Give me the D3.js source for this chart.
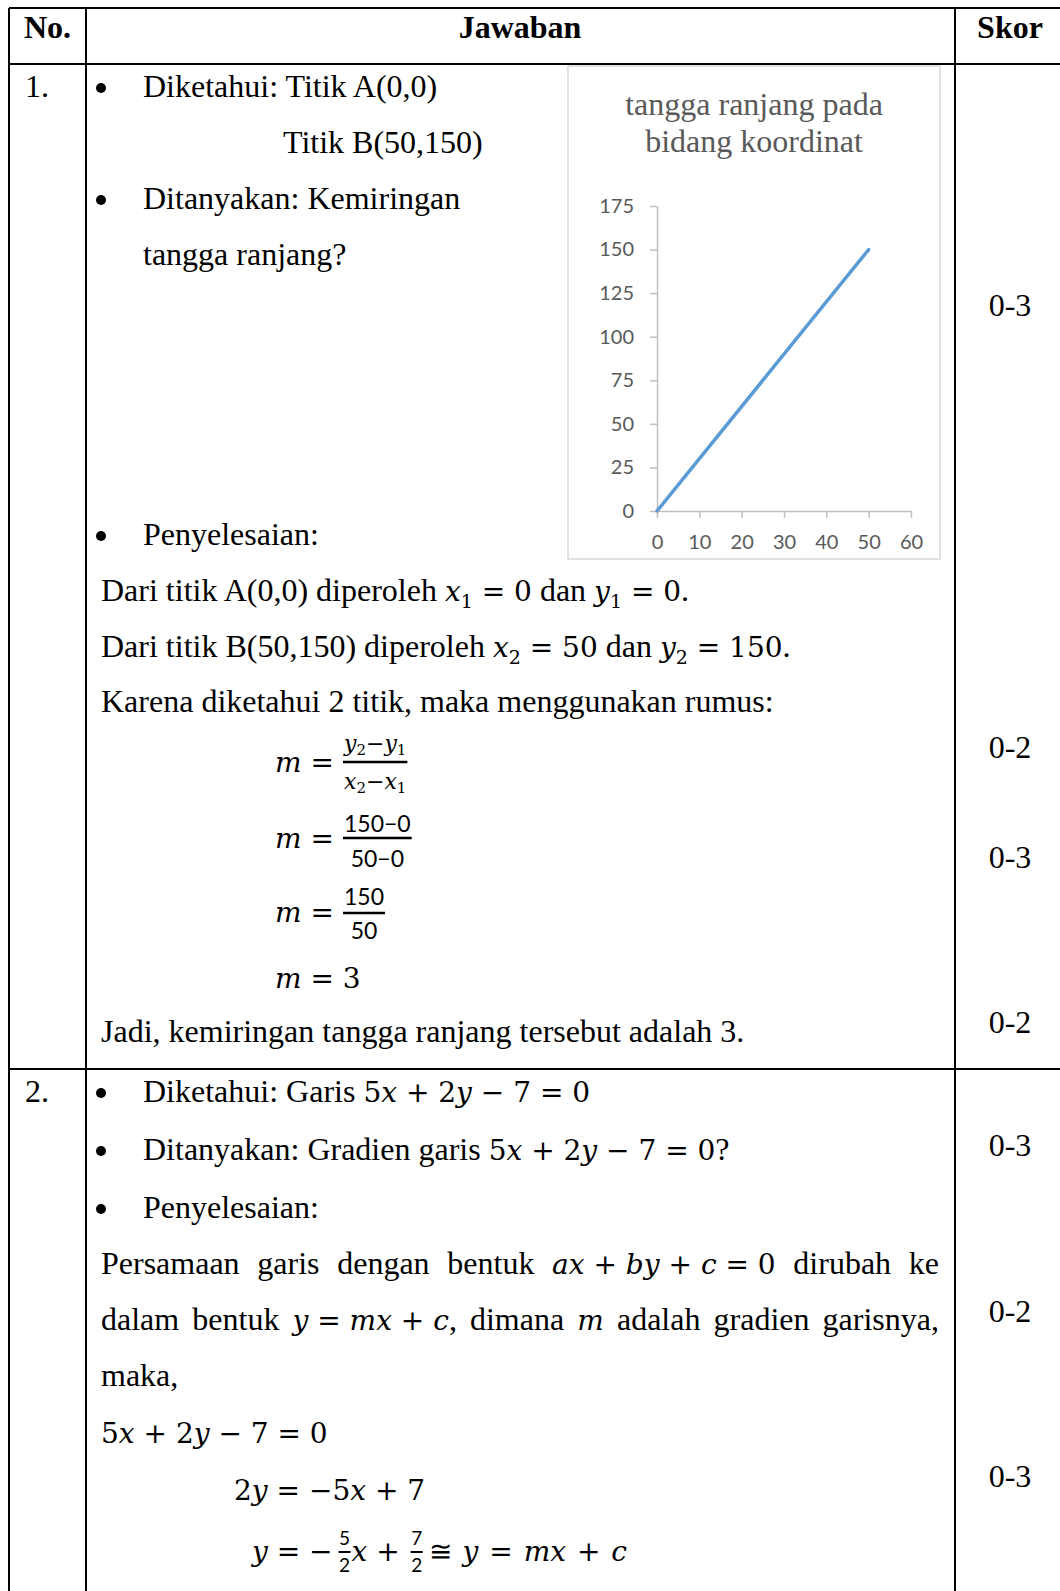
<!DOCTYPE html>
<html>
<head>
<meta charset="utf-8">
<script src="https://cdn.jsdelivr.net/npm/d3@7"></script>
<style>
body{margin:0;background:#fff}
</style>
</head>
<body>
<div id="page"></div>
<script>
// chart data
var xValues=[0,50];
var yValues=[0,150];
var xTicks=[0,10,20,30,40,50,60];
var yTicks=[0,25,50,75,100,125,150,175];
var chartTitle=["tangga ranjang pada","bidang koordinat"];
// skor column
var skor1=["0-3","0-2","0-3","0-2"];
var skor1Y=[316,758,868,1033];
var skor2=["0-3","0-2","0-3"];
var skor2Y=[1156,1322,1487];

var serif="'Liberation Serif','Times New Roman',serif";
var math="'DejaVu Serif',serif";
var sans="Lato,'Open Sans',sans-serif";

var svg=d3.select("#page").append("svg")
	.attr("width",1060)
	.attr("height",1591);

// table borders
[8,64,1069].forEach(function(yy){
	svg.append("line").attr("x1",9).attr("x2",1060).attr("y1",yy).attr("y2",yy)
		.attr("stroke","#000").attr("stroke-width",2);
});
[9,86,955].forEach(function(xx){
	svg.append("line").attr("x1",xx).attr("x2",xx).attr("y1",8).attr("y2",1591)
		.attr("stroke","#000").attr("stroke-width",2);
});

// rich text: strings are Times, {m}/{i}/{sub}/{s} are math runs
function rich(x,y,runs){
	var t=svg.append("text")
		.attr("x",x).attr("y",y)
		.attr("xml:space","preserve")
		.attr("font-family",serif)
		.attr("font-size",32)
		.attr("fill","#000");
	var shift=0;
	runs.forEach(function(r){
		var s=typeof r==="string"?{t:r}:r;
		var ts=t.append("tspan");
		var target=0;
		if(s.t!=null) ts.text(s.t);
		else if(s.m!=null) ts.text(s.m).attr("font-family",math).attr("font-size",s.fs||28);
		else if(s.i!=null) ts.text(s.i).attr("font-family",math).attr("font-size",s.fs||28).attr("font-style","italic");
		else if(s.s!=null) ts.text(s.s).attr("font-family",sans).attr("font-size",s.fs||23);
		else if(s.sub!=null){ts.text(s.sub).attr("font-family",math).attr("font-size",s.fs||19);target=s.dy||7;}
		if(target!==shift){ts.attr("dy",target-shift);shift=target;}
	});
	return t;
}

function bullet(yy){
	svg.append("circle").attr("cx",101).attr("cy",yy).attr("r",5).attr("fill","#000");
}

function frac(x,barY,num,den,o){
	var n=rich(x,barY-o.up,num), d=rich(x,barY+o.down,den);
	var wn=n.node().getComputedTextLength(), wd=d.node().getComputedTextLength();
	var w=Math.max(wn,wd)+o.pad;
	n.attr("x",x+(w-wn)/2);
	d.attr("x",x+(w-wd)/2);
	svg.append("line").attr("x1",x).attr("x2",x+w).attr("y1",barY).attr("y2",barY)
		.attr("stroke","#000").attr("stroke-width",o.sw);
	return w;
}

function justify(x0,x1,y,units){
	var els=units.map(function(u){return rich(0,y,u);});
	var ws=els.map(function(e){return e.node().getComputedTextLength();});
	var gap=(x1-x0-d3.sum(ws))/(units.length-1);
	var cx=x0;
	els.forEach(function(e,i){e.attr("x",cx);cx+=ws[i]+gap;});
}

// header
svg.append("text").attr("x",24).attr("y",38).attr("font-family",serif).attr("font-size",32).attr("font-weight","bold").text("No.");
svg.append("text").attr("x",520).attr("y",38).attr("text-anchor","middle").attr("font-family",serif).attr("font-size",32).attr("font-weight","bold").text("Jawaban");
svg.append("text").attr("x",1010).attr("y",38).attr("text-anchor","middle").attr("font-family",serif).attr("font-size",32).attr("font-weight","bold").text("Skor");

// row 1
rich(25,97,["1."]);
bullet(88);bullet(200);bullet(536);
rich(143,97,["Diketahui: Titik A(0,0)"]);
rich(283,153,["Titik B(50,150)"]);
rich(143,209,["Ditanyakan: Kemiringan"]);
rich(143,265,["tangga ranjang?"]);
rich(143,545,["Penyelesaian:"]);
rich(101,601,["Dari titik A(0,0) diperoleh ",{i:"x"},{sub:"1"},{m:" = 0"}," dan ",{i:"y"},{sub:"1"},{m:" = 0"},"."]);
rich(101,657,["Dari titik B(50,150) diperoleh ",{i:"x"},{sub:"2"},{m:" = 50"}," dan ",{i:"y"},{sub:"2"},{m:" = 150"},"."]);
rich(101,712,["Karena diketahui 2 titik, maka menggunakan rumus:"]);

var fo={up:6,down:29,pad:2,sw:2.5};
rich(275,772,[{i:"m"},{m:" ="}]);
frac(343,762,[{i:"y",fs:22},{sub:"2",fs:15,dy:4},{m:"−",fs:22},{i:"y",fs:22},{sub:"1",fs:15,dy:4}],
	[{i:"x",fs:22},{sub:"2",fs:15,dy:4},{m:"−",fs:22},{i:"x",fs:22},{sub:"1",fs:15,dy:4}],{up:11,down:27,pad:2,sw:2.5});
rich(275,848,[{i:"m"},{m:" ="}]);
frac(343,838,[{s:"150−0"}],[{s:"50−0"}],fo);
rich(275,922,[{i:"m"},{m:" ="}]);
frac(343,913,[{s:"150"}],[{s:"50"}],{up:8,down:26,pad:2,sw:2.5});
rich(275,988,[{i:"m"},{m:" = 3"}]);
rich(101,1042,["Jadi, kemiringan tangga ranjang tersebut adalah 3."]);

skor1.forEach(function(s,i){
	rich(1010,skor1Y[i],[s]).attr("text-anchor","middle");
});

// row 2
rich(25,1102,["2."]);
bullet(1093);bullet(1151);bullet(1209);
rich(143,1102,["Diketahui: Garis ",{m:"5"},{i:"x"},{m:" + 2"},{i:"y"},{m:" − 7 = 0"}]);
rich(143,1160,["Ditanyakan: Gradien garis ",{m:"5"},{i:"x"},{m:" + 2"},{i:"y"},{m:" − 7 = 0"},"?"]);
rich(143,1218,["Penyelesaian:"]);
justify(101,939,1274,[["Persamaan"],["garis"],["dengan"],["bentuk"],
	[{i:"ax"},{m:" + "},{i:"by"},{m:" + "},{i:"c"},{m:" = 0"}],["dirubah"],["ke"]]);
justify(101,939,1330,[["dalam"],["bentuk"],[{i:"y"},{m:" = "},{i:"mx"},{m:" + "},{i:"c"},","],
	["dimana"],[{i:"m"}],["adalah"],["gradien"],["garisnya,"]]);
rich(101,1386,["maka,"]);
rich(101,1443,[{m:"5"},{i:"x"},{m:" + 2"},{i:"y"},{m:" − 7 = 0"}]);
rich(234,1500,[{m:"2"},{i:"y"},{m:" = −5"},{i:"x"},{m:" + 7"}]);

// y = -5/2 x + 7/2 ≅ y = mx + c
(function(){
	var cx=252, by=1561, so={up:7,down:20,pad:1,sw:2};
	var t=rich(cx,by,[{i:"y"},{m:" = −"}]);
	cx+=t.node().getComputedTextLength()+6;
	cx+=frac(cx,1552,[{s:"5",fs:19}],[{s:"2",fs:19}],so)+1;
	t=rich(cx,by,[{i:"x"},{m:" + "}]);
	cx+=t.node().getComputedTextLength()+2;
	cx+=frac(cx,1552,[{s:"7",fs:19}],[{s:"2",fs:19}],so)+6;
	rich(cx,by,[{m:"≅ "},{i:"y"},{m:" = "},{i:"mx"},{m:" + "},{i:"c"}]).attr("word-spacing",2);
})();

skor2.forEach(function(s,i){
	rich(1010,skor2Y[i],[s]).attr("text-anchor","middle");
});

// embedded chart
var box={x:568,y:66,w:372,h:493};
svg.append("rect")
	.attr("x",box.x).attr("y",box.y)
	.attr("width",box.w).attr("height",box.h)
	.attr("fill","#fff").attr("stroke","#d9d9d9").attr("stroke-width",1.5);

chartTitle.forEach(function(s,i){
	svg.append("text")
		.attr("x",box.x+box.w/2)
		.attr("y",115+i*37)
		.attr("text-anchor","middle")
		.attr("font-family",serif)
		.attr("font-size",32)
		.attr("fill","#595959")
		.text(s);
});

var x=d3.scaleLinear().domain([0,60]).range([657,911]);
var y=d3.scaleLinear().domain([0,175]).range([511,206]);

var gx=svg.append("g")
	.attr("transform","translate(0,"+y(0)+")")
	.call(d3.axisBottom(x).tickValues(xTicks).tickSize(7).tickSizeOuter(0).tickPadding(17));
var gy=svg.append("g")
	.attr("transform","translate("+x(0)+",0)")
	.call(d3.axisLeft(y).tickValues(yTicks).tickSize(7).tickSizeOuter(0).tickPadding(16));

[gx,gy].forEach(function(g){
	g.attr("font-family",sans).attr("font-size",20);
	g.select(".domain").attr("stroke","#bfbfbf").attr("stroke-width",1.5);
	g.selectAll(".tick line").attr("stroke","#bfbfbf").attr("stroke-width",1.5);
	g.selectAll(".tick text").attr("fill","#595959");
});

var pts=xValues.map(function(v,i){return [v,yValues[i]];});
svg.append("path")
	.datum(pts)
	.attr("fill","none")
	.attr("stroke","#5b9bd5")
	.attr("stroke-width",3.5)
	.attr("stroke-linecap","round")
	.attr("d",d3.line().x(function(d){return x(d[0]);}).y(function(d){return y(d[1]);}));
</script>
</body>
</html>
